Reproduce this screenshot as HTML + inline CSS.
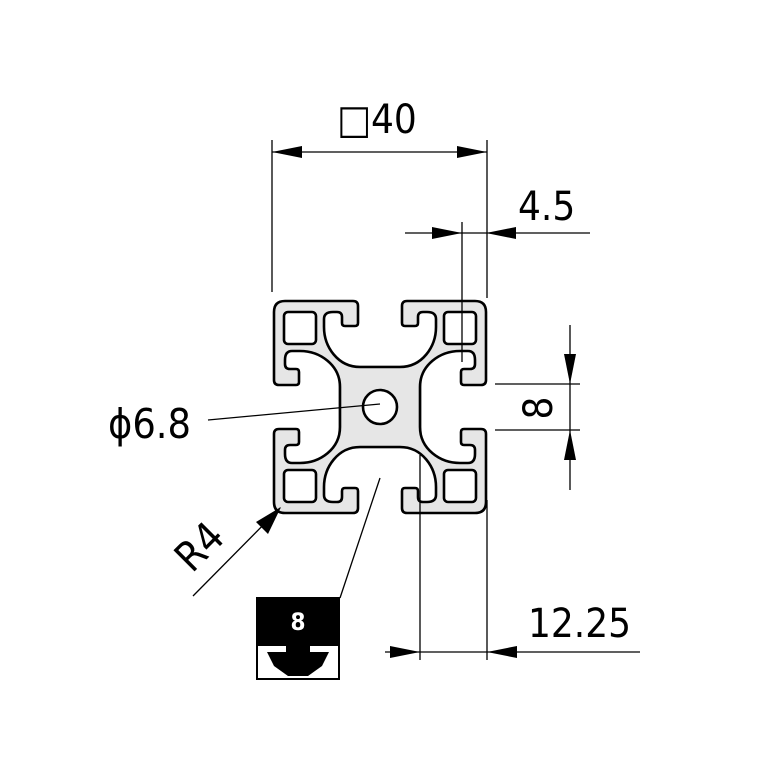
<!DOCTYPE html>
<html><head><meta charset="utf-8"><style>
html,body{margin:0;padding:0;background:#fff;}
svg{display:block;}
text{font-family:"DejaVu Sans Condensed","Liberation Sans",sans-serif;fill:#000;}
</style></head><body>
<svg width="767" height="767" viewBox="0 0 767 767" xmlns="http://www.w3.org/2000/svg">
<defs>
<path id="q" d="M 0,-40 L -20,-40 C -42,-40 -56,-60 -56,-80 L -56,-88 Q -56,-95 -47,-95 L -43,-95 Q -38,-95 -38,-90 L -38,-84 Q -38,-81 -35,-81 L -25,-81 Q -22,-81 -22,-84 L -22,-101 Q -22,-106 -27,-106 L -95,-106 Q -106,-106 -106,-95 L -106,-27 Q -106,-22 -101,-22 L -84,-22 Q -81,-22 -81,-25 L -81,-35 Q -81,-38 -84,-38 L -90,-38 Q -95,-38 -95,-43 L -95,-47 Q -95,-56 -88,-56 L -80,-56 C -60,-56 -40,-42 -40,-20 L -40,0"/>
<rect id="h" x="-96" y="-95" width="32" height="32" rx="4"/>
</defs>
<g transform="translate(380,407)">
<rect x="-42" y="-42" width="84" height="84" fill="#e6e6e6"/>
<g fill="#e6e6e6" stroke="#000" stroke-width="2.6" stroke-linejoin="round">
<use href="#q"/>
<use href="#q" transform="scale(-1,1)"/>
<use href="#q" transform="scale(1,-1)"/>
<use href="#q" transform="scale(-1,-1)"/>
</g>
<g fill="#fff" stroke="#000" stroke-width="2.6">
<use href="#h"/>
<use href="#h" transform="scale(-1,1)"/>
<use href="#h" transform="scale(1,-1)"/>
<use href="#h" transform="scale(-1,-1)"/>
<circle cx="0" cy="0" r="17"/>
</g>
</g>
<g stroke="#000" stroke-width="1.3" fill="none">
<line x1="272" y1="140" x2="272" y2="292"/>
<line x1="487" y1="140" x2="487" y2="298"/>
<line x1="272" y1="152" x2="487" y2="152"/>
<line x1="405" y1="233" x2="590" y2="233"/>
<line x1="462" y1="222" x2="462" y2="362"/>
<line x1="570" y1="325" x2="570" y2="490"/>
<line x1="495" y1="384" x2="580" y2="384"/>
<line x1="495" y1="430" x2="580" y2="430"/>
<line x1="208" y1="420" x2="380" y2="404"/>
<line x1="193" y1="596" x2="280" y2="508"/>
<line x1="385" y1="652" x2="640" y2="652"/>
<line x1="420" y1="455" x2="420" y2="660"/>
<line x1="487" y1="500" x2="487" y2="660"/>
<line x1="380" y1="478" x2="340" y2="598"/>
</g>
<g fill="#000">
<polygon points="272,152 302,146 302,158"/>
<polygon points="487,152 457,146 457,158"/>
<polygon points="462,233 432,227 432,239"/>
<polygon points="486,233 516,227 516,239"/>
<polygon points="570,384 564,354 576,354"/>
<polygon points="570,430 564,460 576,460"/>
<polygon points="420,652 390,646 390,658"/>
<polygon points="487,652 517,646 517,658"/>
<polygon points="281,507 268,534 256,522"/>
</g>
<text x="337" y="133" font-size="40">□40</text>
<text x="518" y="220" font-size="40">4.5</text>
<text x="0" y="0" font-size="40" transform="translate(552,408) rotate(-90)" text-anchor="middle">8</text>
<text x="108" y="438" font-size="41">ϕ6.8</text>
<text x="0" y="0" font-size="41" transform="translate(192,574) rotate(-45)">R4</text>
<text x="528" y="637" font-size="40">12.25</text>
<rect x="256" y="597" width="84" height="49" fill="#000"/>
<rect x="257" y="645" width="82" height="34" fill="#fff" stroke="#000" stroke-width="2"/>
<polygon points="267,652 286,652 286,646 310,646 310,652 329,652 322,666 308,676 288,676 274,666" fill="#000"/>
<text x="298" y="630" font-size="24" font-weight="bold" text-anchor="middle" style="fill:#fff">8</text>
</svg>
</body></html>
